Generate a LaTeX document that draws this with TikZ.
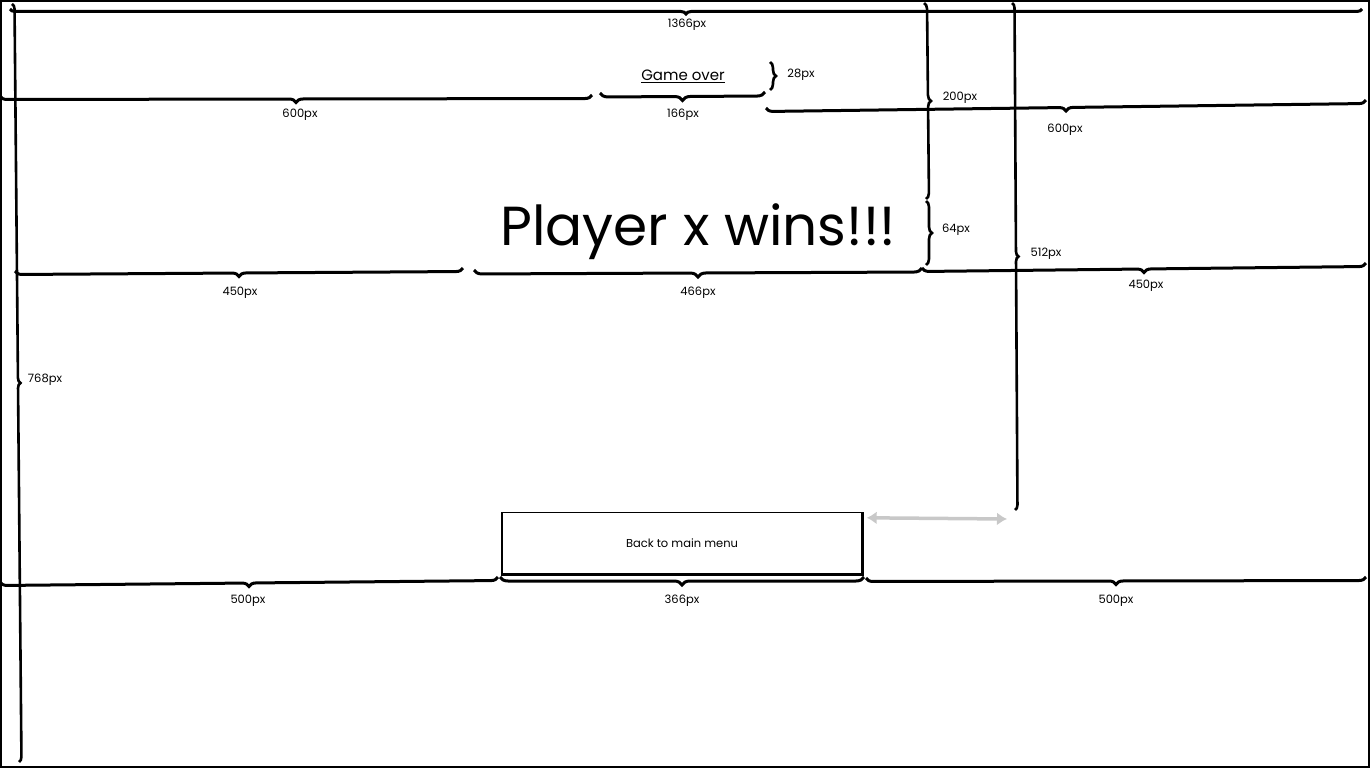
\documentclass[tikz,border=0pt]{standalone}
\usepackage{fontspec}
\setmainfont{Poppins}
\usetikzlibrary{decorations.pathreplacing,arrows.meta}
\definecolor{gapgray}{RGB}{200,200,200}
\tikzset{
  hbrace/.style={decorate, decoration={brace, mirror, amplitude=#1}, line width=3pt},
  hbrace/.default=7pt,
  vbrace/.style={decorate, decoration={brace, amplitude=#1}, line width=2.6pt},
  vbrace/.default=6pt,
  dimlabel/.style={font=\fontsize{11.5}{13}\selectfont, inner sep=1pt},
}
\begin{document}
\begin{tikzpicture}[x=1pt, y=-1pt]
        \useasboundingbox (0,0) rectangle (1371,768);
        \draw[line width=1.6pt] (1,1) rectangle (1369,767);
        % widths
        \draw[hbrace=5pt] (10,9) -- (1362,9);
        \node[dimlabel] (w1366) at (687,25) {1366px};
        \draw[hbrace] (0,96) -- (592,95);
        \node[dimlabel] (w600a) at (300,115) {600px};
        \draw[hbrace=8pt] (600,93) -- (765,92);
        \node[dimlabel] (w166) at (683,115) {166px};
        \draw[hbrace] (766,108) -- (1366,100);
        \node[dimlabel] (w600b) at (1065,130) {600px};
        \draw[hbrace] (15,271) -- (463,268);
        \node[dimlabel] (w450a) at (240,293) {450px};
        \draw[hbrace=8pt] (474,270) -- (922,268);
        \node[dimlabel] (w466) at (698,293) {466px};
        \draw[hbrace] (922,268) -- (1366,263);
        \node[dimlabel] (w450b) at (1146,286) {450px};
        \draw[hbrace] (0,582) -- (498,577);
        \node[dimlabel] (w500a) at (248,601) {500px};
        \draw[hbrace=8pt] (500,577) -- (864,577);
        \node[dimlabel] (w366) at (682,601) {366px};
        \draw[hbrace] (866,578) -- (1366,577);
        \node[dimlabel] (w500b) at (1116,601) {500px};
        % heights
        \draw[vbrace=5pt] (12,4) -- (19,762);
        \node[dimlabel] (h768) at (45,380) {768px};
        \draw[vbrace] (770,62) -- (770,90);
        \node[dimlabel] (h28) at (801,75) {28px};
        \draw[vbrace] (924,3) -- (926,199);
        \node[dimlabel] (h200) at (960,98) {200px};
        \draw[vbrace] (926,201) -- (926,265);
        \node[dimlabel] (h64) at (956,230) {64px};
        \draw[vbrace=5pt] (1012,3) -- (1015,510);
        \node[dimlabel] (h512) at (1046,254) {512px};
        % screen content
        \node[font=\fontsize{15}{17}\selectfont] (gameover) at (683,76) {\underline{Game over}};
        \node[font=\fontsize{55}{62}\selectfont] (winner) at (698,232) {Player x wins!!!};
        \node[draw, line width=1.4pt, minimum width=360pt, minimum height=61pt, font=\fontsize{11.5}{13}\selectfont] (backbtn) at (682,543) {Back to main menu};
        \draw[line width=3.2pt] (backbtn.south west) -- (backbtn.south east) -- (backbtn.north east);
        \coordinate (gapend) at (1007,519);
        \draw[gapgray, line width=3.5pt, {Latex[length=10pt,width=13pt]}-{Latex[length=10pt,width=13pt]}] ([shift={(4,6)}]backbtn.north east) -- (gapend);
    \end{tikzpicture}
\end{document}
